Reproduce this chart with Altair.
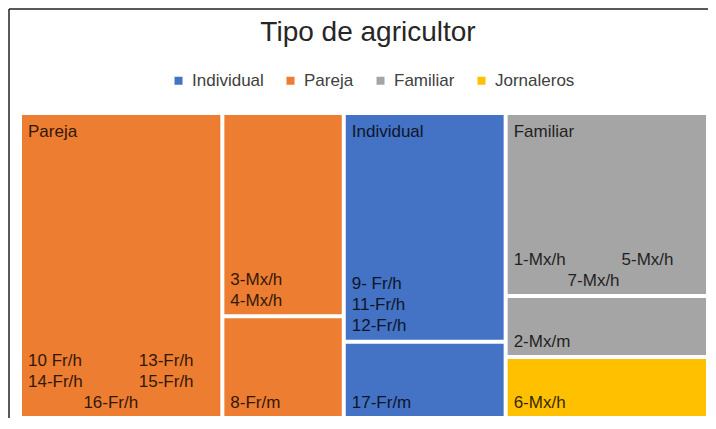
import altair as alt
import pandas as pd

# ---- data ----
groups = ["Individual", "Pareja", "Familiar", "Jornaleros"]
group_colors = ["#4472C4", "#ED7D31", "#A5A5A5", "#FFC000"]
group_label_shown = [True, True, True, False]

cell_group = ["Pareja", "Pareja", "Pareja", "Individual", "Individual",
              "Familiar", "Familiar", "Jornaleros"]
cell_count = [5, 2, 1, 3, 1, 3, 1, 1]
cell_labels = [
    [["10 Fr/h", "13-Fr/h"], ["14-Fr/h", "15-Fr/h"], ["16-Fr/h"]],
    [["3-Mx/h"], ["4-Mx/h"]],
    [["8-Fr/m"]],
    [["9- Fr/h"], ["11-Fr/h"], ["12-Fr/h"]],
    [["17-Fr/m"]],
    [["1-Mx/h", "5-Mx/h"], ["7-Mx/h"]],
    [["2-Mx/m"]],
    [["6-Mx/h"]],
]
title_text = "Tipo de agricultor"

# ---- layout (squarified treemap) ----
W, H = 688, 305
FS = 17
LINE = 21
GAP_WORDS = 56
INSET = 2

def worst(row, length):
    s = sum(row)
    return max(max(length * length * r / (s * s), s * s / (length * length * r)) for r in row)

def squarify(areas, x, y, w, h):
    rects = []
    i = 0
    while i < len(areas):
        length = min(w, h)
        row = [areas[i]]
        j = i + 1
        while j < len(areas) and worst(row + [areas[j]], length) <= worst(row, length):
            row.append(areas[j])
            j += 1
        s = sum(row)
        if w >= h:
            cw = s / h
            yy = y
            for a in row:
                rh = a / cw
                rects.append((x, yy, x + cw, yy + rh))
                yy += rh
            x += cw
            w -= cw
        else:
            rh = s / w
            xx = x
            for a in row:
                rw = a / rh
                rects.append((xx, y, xx + rw, y + rh))
                xx += rw
            y += rh
            h -= rh
        i = j
    return rects

total = sum(cell_count)
unit = W * H / total
gtot = {g: sum(c for c, gg in zip(cell_count, cell_group) if gg == g) for g in groups}
gshow = dict(zip(groups, group_label_shown))
gorder = sorted(groups, key=lambda g: -gtot[g])
grects = squarify([gtot[g] * unit for g in gorder], 0, 0, W, H)

CW = {c: 0.556 for c in "0123456789"}
CW.update({"-": 0.333, "F": 0.611, "r": 0.333, "/": 0.278, "h": 0.556,
           "M": 0.833, "x": 0.5, "m": 0.833, " ": 0.278})
def tw(s):
    return sum(CW.get(c, 0.55) for c in s) * FS

rect_rows, text_rows = [], []
for g, (gx0, gy0, gx1, gy1) in zip(gorder, grects):
    idx = [k for k in range(len(cell_group)) if cell_group[k] == g]
    idx.sort(key=lambda k: -cell_count[k])
    crects = squarify([cell_count[k] * unit for k in idx], gx0, gy0, gx1 - gx0, gy1 - gy0)
    if gshow[g]:
        text_rows.append(dict(x=gx0 + 8, y=gy0 + 19, text=g, align="left"))
    for k, (x0, y0, x1, y1) in zip(idx, crects):
        rect_rows.append(dict(x0=x0 + INSET, x1=x1 - INSET, y0=y0 + INSET,
                              y1=y1 - INSET, group=g))
        lines = cell_labels[k]
        left = x0 + 8
        pairs = [ln for ln in lines if len(ln) == 2]
        bw = max((tw(a) + GAP_WORDS + tw(b) for a, b in pairs), default=0)
        n = len(lines)
        for li, ln in enumerate(lines):
            yy = y1 - 15.5 - LINE * (n - 1 - li)
            if len(ln) == 2:
                text_rows.append(dict(x=left, y=yy, text=ln[0], align="left"))
                text_rows.append(dict(x=left + bw, y=yy, text=ln[1], align="right"))
            elif pairs:
                text_rows.append(dict(x=left + bw / 2, y=yy, text=ln[0], align="center"))
            else:
                text_rows.append(dict(x=left, y=yy, text=ln[0], align="left"))

rect_df = pd.DataFrame(rect_rows)
text_df = pd.DataFrame(text_rows)

xs = alt.Scale(domain=[0, W], nice=False, zero=False)
ys = alt.Scale(domain=[0, H], nice=False, zero=False, reverse=True)

rects = alt.Chart(rect_df).mark_rect().encode(
    x=alt.X("x0:Q", scale=xs, axis=None),
    x2="x1:Q",
    y=alt.Y("y0:Q", scale=ys, axis=None),
    y2="y1:Q",
    color=alt.Color(
        "group:N",
        scale=alt.Scale(domain=groups, range=group_colors),
        legend=alt.Legend(
            title=None, orient="none", legendX=150, legendY=-41,
            direction="horizontal", symbolType="square", symbolSize=64,
            symbolStrokeWidth=0, labelFont="Liberation Sans", labelFontSize=17,
            labelColor="#404040", columnPadding=18, labelOffset=5,
        ),
    ),
)

def text_layer(al):
    return alt.Chart(text_df).transform_filter(
        alt.datum.align == al
    ).mark_text(
        align=al, baseline="middle", font="Liberation Sans", fontSize=FS,
        color="black", opacity=0.8,
    ).encode(
        x=alt.X("x:Q", scale=xs, axis=None),
        y=alt.Y("y:Q", scale=ys, axis=None),
        text="text:N",
    )

one = pd.DataFrame({"t": [title_text]})
title = alt.Chart(one).mark_text(
    align="center", baseline="alphabetic", font="Liberation Sans", fontSize=28,
    color="#262626",
).encode(x=alt.value(348), y=alt.value(-72), text="t:N")

frame_left = alt.Chart(one).mark_rule(color="#222222", strokeWidth=1.5).encode(
    x=alt.value(-11), y=alt.value(-104), y2=alt.value(H + 10)
)
frame_top = alt.Chart(one).mark_rule(color="#222222", strokeWidth=1.5).encode(
    x=alt.value(-11), x2=alt.value(W + 10), y=alt.value(-104)
)

chart = alt.layer(
    rects, text_layer("left"), text_layer("right"), text_layer("center"),
    title, frame_left, frame_top,
).properties(
    width=W, height=H,
    autosize=alt.AutoSizeParams(type="none"),
    padding={"left": 12, "top": 105, "right": 0, "bottom": 0},
    background="white",
).configure_view(stroke=None)

chart.save("out.html", embed_options={"renderer": "svg", "actions": False})
